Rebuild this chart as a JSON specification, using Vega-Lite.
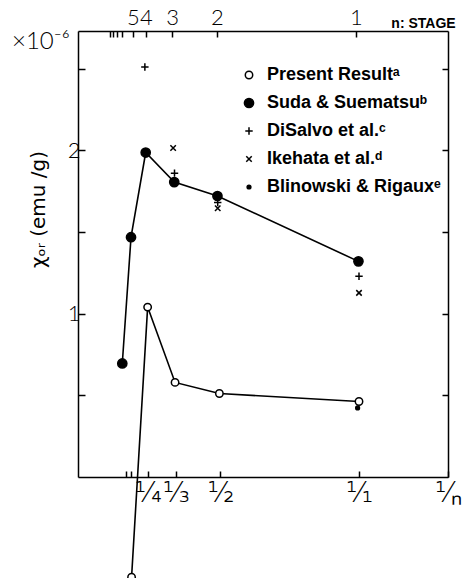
{
  "$schema": "https://vega.github.io/schema/vega-lite/v6.json",
  "width": 370,
  "height": 446,
  "autosize": {"type": "none"},
  "padding": {"left": 78, "top": 31, "right": 21, "bottom": 101},
  "background": "white",
  "config": {
    "view": {"stroke": null},
    "axis": {"grid": false, "domainColor": "black", "domainWidth": 1.5, "tickColor": "black", "tickWidth": 1.5, "labelColor": "black", "titleColor": "black"}
  },
  "title": {"text": "×10⁻⁶", "anchor": "start", "frame": "group", "dx": -66, "dy": 52, "fontSize": 24, "font": "Lato", "fontWeight": 300, "color": "black"},
  "data": {"values": [
    {"series": "Present Resultᵃ", "inv_n": 0.179, "chi": -0.613},
    {"series": "Present Resultᵃ", "inv_n": 0.237, "chi": 1.04},
    {"series": "Present Resultᵃ", "inv_n": 0.336, "chi": 0.579},
    {"series": "Present Resultᵃ", "inv_n": 0.496, "chi": 0.511},
    {"series": "Present Resultᵃ", "inv_n": 1.0, "chi": 0.462},
    {"series": "Suda & Suematsuᵇ", "inv_n": 0.1455, "chi": 0.695},
    {"series": "Suda & Suematsuᵇ", "inv_n": 0.177, "chi": 1.468},
    {"series": "Suda & Suematsuᵇ", "inv_n": 0.23, "chi": 1.986},
    {"series": "Suda & Suematsuᵇ", "inv_n": 0.333, "chi": 1.805},
    {"series": "Suda & Suematsuᵇ", "inv_n": 0.489, "chi": 1.72},
    {"series": "Suda & Suematsuᵇ", "inv_n": 0.998, "chi": 1.32},
    {"series": "DiSalvo et al.ᶜ", "inv_n": 0.227, "chi": 2.51},
    {"series": "DiSalvo et al.ᶜ", "inv_n": 0.334, "chi": 1.86},
    {"series": "DiSalvo et al.ᶜ", "inv_n": 0.49, "chi": 1.68},
    {"series": "DiSalvo et al.ᶜ", "inv_n": 1.0, "chi": 1.229},
    {"series": "Ikehata et al.ᵈ", "inv_n": 0.329, "chi": 2.014},
    {"series": "Ikehata et al.ᵈ", "inv_n": 0.49, "chi": 1.645},
    {"series": "Ikehata et al.ᵈ", "inv_n": 1.0, "chi": 1.127},
    {"series": "Blinowski & Rigauxᵉ", "inv_n": 0.995, "chi": 0.423}
  ]},
  "layer": [
    {
      "transform": [{"filter": "datum.series == 'Present Resultᵃ' || datum.series == 'Suda & Suematsuᵇ'"}],
      "mark": {"type": "line", "stroke": "black", "strokeWidth": 1.6},
      "encoding": {
        "x": {"field": "inv_n", "type": "quantitative",
          "scale": {"domain": [-0.0144, 1.3213], "nice": false, "zero": false},
          "axis": {"orient": "bottom", "title": null,
            "values": [0.159, 0.177, 0.238, 0.339, 0.5, 1.0, 1.3213],
            "labelExpr": "datum.value > 1.2 ? '¹⁄ₙ' : datum.value > 0.9 ? '¹⁄₁' : datum.value > 0.45 ? '¹⁄₂' : datum.value > 0.3 ? '¹⁄₃' : datum.value > 0.2 ? '¹⁄₄' : ''",
            "tickSize": -6, "labelFont": "DejaVu Sans", "labelFontWeight": 300, "labelFontSize": 28, "labelPadding": 8,
            "labelFlush": false, "labelOverlap": false, "labelBound": false}},
        "y": {"field": "chi", "type": "quantitative",
          "scale": {"domain": [0, 2.73], "nice": false, "zero": false},
          "axis": {"orient": "left", "values": [0.5, 1, 1.5, 2, 2.5],
            "labelExpr": "datum.value == 1 ? '1' : datum.value == 2 ? '2' : ''",
            "tickSize": -7, "labelFont": "Lato", "labelFontWeight": 300, "labelFontSize": 22, "labelPadding": 5,
            "title": "χₒᵣ (emu /g)", "titleFont": "DejaVu Sans", "titleFontSize": 20, "titleFontWeight": "normal",
            "titleAngle": -90, "titleX": -40, "titleY": 178, "titleAlign": "center", "titleBaseline": "middle"}},
        "detail": {"field": "series"}
      }
    },
    {
      "mark": {"type": "point", "stroke": "black", "strokeWidth": 1.5, "opacity": 1},
      "encoding": {
        "x": {"field": "inv_n", "type": "quantitative",
          "scale": {"domain": [-0.0144, 1.3213], "nice": false, "zero": false},
          "axis": {"orient": "top", "values": [0.101, 0.112, 0.126, 0.144, 0.184, 0.231, 0.325, 0.487, 0.989],
            "labelExpr": "datum.value > 0.9 ? '1' : datum.value > 0.4 ? '2' : datum.value > 0.3 ? '3' : datum.value > 0.2 ? '4' : datum.value > 0.17 ? '5' : ''",
            "tickSize": -6, "labelFont": "Lato", "labelFontWeight": 300, "labelFontSize": 22, "labelPadding": 8,
            "labelFlush": false, "labelOverlap": false,
            "title": "n: STAGE", "titleFont": "Liberation Sans", "titleFontWeight": "bold", "titleFontSize": 14,
            "titleX": 345, "titleY": -4, "titleAlign": "center", "titleBaseline": "alphabetic"}},
        "y": {"field": "chi", "type": "quantitative",
          "scale": {"domain": [0, 2.73], "nice": false, "zero": false},
          "axis": {"orient": "right", "values": [0.5, 1, 1.5, 2, 2.5], "labels": false, "title": null, "tickSize": -6}},
        "shape": {"field": "series", "type": "nominal",
          "scale": {"domain": ["Present Resultᵃ", "Suda & Suematsuᵇ", "DiSalvo et al.ᶜ", "Ikehata et al.ᵈ", "Blinowski & Rigauxᵉ"],
            "range": ["circle", "circle", "M-1,0H1M0,-1V1", "M-1,-1L1,1M-1,1L1,-1", "circle"]},
          "legend": {"orient": "none", "legendX": 162, "legendY": 35, "title": null, "padding": 0,
            "labelFont": "Liberation Sans", "labelFontWeight": "bold", "labelFontSize": 18, "labelColor": "black", "labelLimit": 300,
            "rowPadding": 10, "labelOffset": 9, "symbolStrokeColor": "black", "symbolStrokeWidth": 1.5}},
        "fill": {"field": "series", "type": "nominal",
          "scale": {"domain": ["Present Resultᵃ", "Suda & Suematsuᵇ", "DiSalvo et al.ᶜ", "Ikehata et al.ᵈ", "Blinowski & Rigauxᵉ"],
            "range": ["white", "black", "black", "black", "black"]}},
        "size": {"field": "series", "type": "nominal",
          "scale": {"type": "ordinal", "domain": ["Present Resultᵃ", "Suda & Suematsuᵇ", "DiSalvo et al.ᶜ", "Ikehata et al.ᵈ", "Blinowski & Rigauxᵉ"],
            "range": [55, 85, 55, 30, 14]}}
      }
    }
  ],
  "resolve": {"axis": {"x": "independent", "y": "independent"}}
}
